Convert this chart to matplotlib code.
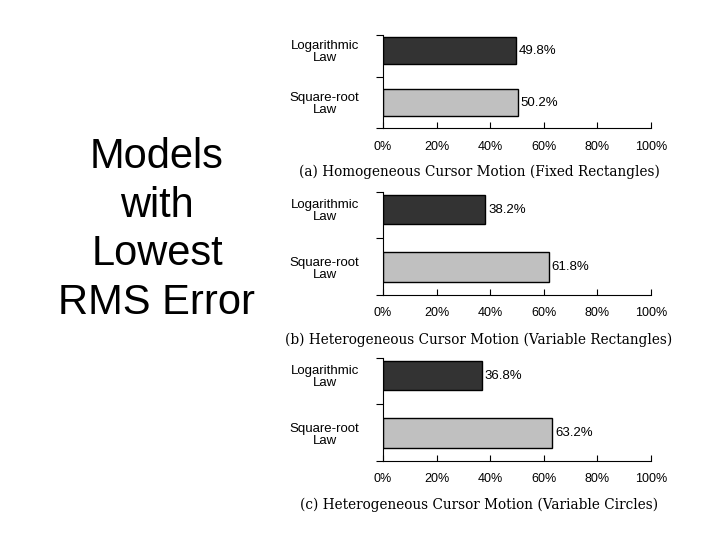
import matplotlib
matplotlib.use("Agg")
import matplotlib.pyplot as plt

categories = ["Logarithmic\nLaw", "Square-root\nLaw"]
panel_a = [49.8, 50.2]
panel_b = [38.2, 61.8]
panel_c = [36.8, 63.2]
captions = ["(a) Homogeneous Cursor Motion (Fixed Rectangles)",
            "(b) Heterogeneous Cursor Motion (Variable Rectangles)",
            "(c) Heterogeneous Cursor Motion (Variable Circles)"]
xticks = [0, 20, 40, 60, 80, 100]
xlabels = ["0%", "20%", "40%", "60%", "80%", "100%"]
colors = ["#333333", "#c0c0c0"]

fig = plt.figure(figsize=(7.2, 5.4), dpi=100)
W, H = 720, 540
panels = [(panel_a, 35, 128, 172), (panel_b, 192, 295, 340), (panel_c, 358, 461, 505)]
for (vals, top, bot, cap_y), cap in zip(panels, captions):
    ax = fig.add_axes([383 / W, 1 - bot / H, 268 / W, (bot - top) / H])
    ys = [1.66, 0.54]
    ax.barh(ys, vals, height=0.58, color=colors, edgecolor="black", linewidth=1)
    for y, v in zip(ys, vals):
        ax.text(v + 1, y, f"{v}%", va="center", ha="left", fontsize=9.5, family="Liberation Sans")
    ax.set_xlim(0, 100)
    ax.set_ylim(0, 2)
    ax.set_xticks(xticks)
    ax.set_xticklabels(xlabels, fontsize=9, family="Liberation Sans")
    ax.set_yticks([0, 1.1, 2])
    ax.set_yticklabels([])
    ax.set_yticks(ys, minor=True)
    ax.set_yticklabels(categories, minor=True, fontsize=9.5, family="Liberation Sans",
                       linespacing=1.0, ha="center")
    ax.tick_params(axis="y", which="minor", length=0, pad=42)
    ax.tick_params(axis="y", which="major", length=5, direction="out")
    ax.tick_params(axis="x", length=4, direction="in", pad=9)
    for s in ["top", "right"]:
        ax.spines[s].set_visible(False)
    fig.text(479 / W, 1 - cap_y / H, cap, ha="center", va="center",
             fontsize=9.8, family="DejaVu Serif")

fig.text(157 / W, 1 - 230 / H, "Models\nwith\nLowest\nRMS Error", ha="center", va="center",
         fontsize=30, family="Liberation Sans", linespacing=1.27)
fig.savefig("out.png", dpi=100)
